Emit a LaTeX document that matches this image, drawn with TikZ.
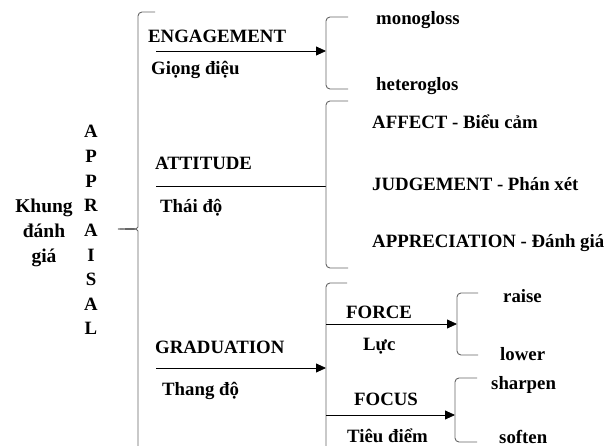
\documentclass[tikz,border=0pt]{standalone}
\usepackage{fontspec}
\setmainfont{Liberation Serif}
\usetikzlibrary{arrows.meta}

\begin{document}
\begin{tikzpicture}[
    x=1pt, y=-1pt,
    lbl/.style={anchor=base west, inner sep=0pt, font=\fontsize{18.8}{22}\selectfont\bfseries},
    arrow/.style={-{Triangle[length=10pt,width=9pt]}, line width=0.8pt},
    link/.style={line width=0.8pt},
    brack/.style={draw=black!60, line width=0.9pt, rounded corners=4pt}
]
    \useasboundingbox (0,0) rectangle (612,446);

    % title and the vertical word
    \node[lbl, anchor=center, align=center, font=\fontsize{19.5}{25}\selectfont\bfseries] (khung) at (44,233) {Khung\\đánh\\giá};
    \foreach \ch [count=\i from 0] in {A,P,P,R,A,I,S,A,L}
        \node[lbl, anchor=base] (ap\i) at (91,{138+24.6*\i}) {\ch};

    % main brace
    \coordinate (mainTip) at (118,229);
    \draw[brack] (155,12) -- (138,12) -- (138,223) to[out=-90,in=0] (mainTip);
    \draw[brack] (138,446) -- (138,235) to[out=90,in=0] (mainTip);

    % second level
    \node[lbl] (eng) at (148,43) {ENGAGEMENT};
    \node[lbl] (engVi) at (151,75) {Giọng điệu};
    \node[lbl] (att) at (155,170) {ATTITUDE};
    \node[lbl] (attVi) at (160,212) {Thái độ};
    \node[lbl] (gra) at (155,353) {GRADUATION};
    \node[lbl] (graVi) at (162,395) {Thang độ};

    \coordinate (engS) at (156,51);
    \coordinate (engE) at (326,51);
    \coordinate (attS) at (156,186);
    \coordinate (attE) at (326,186);
    \coordinate (graS) at (156,368);
    \coordinate (graE) at (326,368);
    \draw[arrow] (engS) -- (engE);
    \draw[link] (attS) -- (attE);
    \draw[arrow] (graS) -- (graE);

    % brackets of the third level
    \draw[brack] (348,17) -- (326,17) -- (326,89) -- (348,89);
    \draw[brack] (348,101) -- (326,101) -- (326,268) -- (348,268);
    \draw[brack] (347,283) -- (326,283) -- (326,446);

    \node[lbl] (mono) at (376,25) {monogloss};
    \node[lbl] (hetero) at (376,91) {heteroglos};
    \node[lbl] (affect) at (372,129) {AFFECT - Biểu cảm};
    \node[lbl] (judge) at (372,191) {JUDGEMENT - Phán xét};
    \node[lbl] (apprec) at (372,247) {APPRECIATION - Đánh giá};

    \node[lbl] (force) at (346,318) {FORCE};
    \node[lbl] (forceVi) at (363,350) {Lực};
    \node[lbl] (focus) at (354,405) {FOCUS};
    \node[lbl] (focusVi) at (347,442) {Tiêu điểm};

    \coordinate (forS) at (326,324);
    \coordinate (forE) at (457,324);
    \coordinate (focS) at (326,415);
    \coordinate (focE) at (455,415);
    \draw[arrow] (forS) -- (forE);
    \draw[arrow] (focS) -- (focE);

    % last level
    \draw[brack] (478,293) -- (457,293) -- (457,355) -- (478,355);
    \draw[brack] (477,378) -- (455,378) -- (455,442) -- (477,442);

    \node[lbl] (raise) at (503,302) {raise};
    \node[lbl] (lower) at (500,360) {lower};
    \node[lbl] (sharpen) at (491,389) {sharpen};
    \node[lbl] (soften) at (499,443) {soften};
\end{tikzpicture}
\end{document}
